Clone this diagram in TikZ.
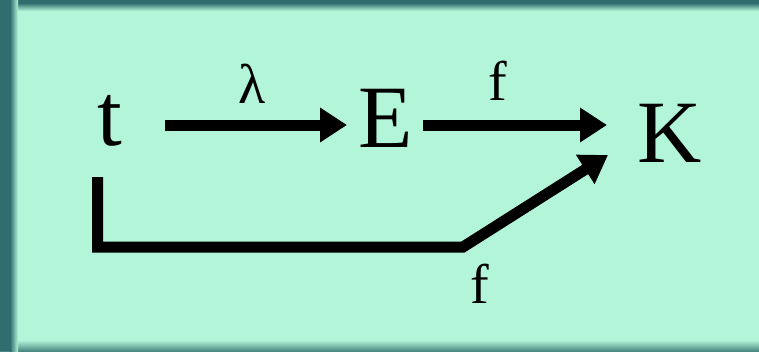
\documentclass[tikz,border=0pt]{standalone}
\usepackage{fontspec}
\setmainfont{Liberation Serif}
\usetikzlibrary{arrows.meta}
\definecolor{bgmint}{RGB}{179,245,216}
\definecolor{edgeteal}{RGB}{47,110,110}
\tikzset{
  bigtxt/.style={anchor=base, inner sep=0pt, font=\fontsize{89}{100}\selectfont},
  lbltxt/.style={anchor=base, inner sep=0pt, font=\fontsize{56}{64}\selectfont},
  arr/.style={line width=11pt, line join=miter, line cap=butt,
    -{Triangle[length=27pt,width=33pt]}},
}
\begin{document}
\begin{tikzpicture}[x=1pt,y=-1pt]
\useasboundingbox (0,0) rectangle (759,351);
% background and frame
\fill[bgmint] (0,0) rectangle (759,351);
\fill[edgeteal] (0,0) rectangle (759,3);
\shade[top color=edgeteal, bottom color=bgmint] (0,3) rectangle (759,11);
\shade[top color=bgmint, bottom color=edgeteal!80!bgmint] (0,340) rectangle (759,351);
\fill[edgeteal] (0,0) rectangle (10,351);
\shade[left color=edgeteal, right color=bgmint] (10,0) rectangle (18,351);
% nodes
\node[bigtxt] (t) at (110,145) {t};
\node[bigtxt] (E) at (386,147) {E};
\node[bigtxt] (K) at (670,162) {K};
% connector end points
\coordinate (a1s) at (165,125);
\coordinate (a1e) at (347,125);
\coordinate (a2s) at (423,125);
\coordinate (a2e) at (607,125);
\coordinate (b0) at (97.5,177);
\coordinate (b1) at (97.5,247);
\coordinate (b2) at (463,247);
\coordinate (b3) at (608,155);
% connectors
\draw[arr] (a1s) -- (a1e);
\draw[arr] (a2s) -- (a2e);
\draw[arr] (b0) -- (b1) -- (b2) -- (b3);
% labels
\node[lbltxt] (lam) at (252,103) {λ};
\node[lbltxt] (f1) at (498,100) {f};
\node[lbltxt] (f2) at (480,303) {f};
\end{tikzpicture}
\end{document}
